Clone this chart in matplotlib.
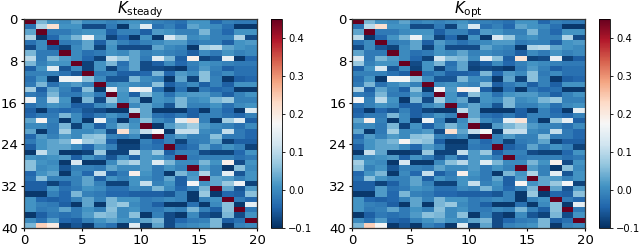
import numpy as np
import matplotlib
matplotlib.use("Agg")
import matplotlib.pyplot as plt

x_ticks = [0, 5, 10, 15, 20]
y_ticks = [0, 8, 16, 24, 32, 40]
cbar_ticks = [-0.1, 0.0, 0.1, 0.2, 0.3, 0.4]
titles = [r"$K_{\mathrm{steady}}$", r"$K_{\mathrm{opt}}$"]

# values in hundredths
k_steady = [
[45,5,1,0,3,0,0,-1,0,1,0,-1,-2,-3,1,1,-4,-1,-2,-2],
[-3,9,22,1,1,-7,-7,-2,-9,2,14,-3,-1,-4,3,1,0,-3,-9,-9],
[3,45,-2,-2,0,1,1,-5,-1,-1,-5,2,1,-1,-1,5,-1,-4,1,1],
[9,-9,-4,1,5,16,2,-8,-4,-9,1,-9,13,7,0,1,-1,-1,9,-7],
[-3,0,45,-2,-1,3,-5,2,-1,-3,-1,0,2,2,-2,-1,-1,-5,1,2],
[-7,0,-6,-8,0,3,-8,1,-7,-7,-7,3,0,-1,-9,8,10,3,1,0],
[5,-2,-2,45,0,-3,-2,1,0,3,-1,0,-1,-2,-5,0,-2,1,-1,0],
[10,-2,5,2,0,-4,-8,11,7,3,-2,14,5,-5,19,-8,-6,15,-9,-4],
[5,-1,1,1,45,-8,1,5,-3,3,-7,-5,0,-4,-1,1,0,-1,-2,-2],
[-5,1,14,-6,0,-8,1,-8,-2,3,-7,-7,-8,-9,-2,2,-1,-5,-3,-3],
[-1,-1,-1,-3,-6,45,-2,-1,-5,-5,-4,5,-4,2,0,6,-2,0,-3,-3],
[-3,1,-9,16,16,6,0,-6,-6,5,0,-1,-9,3,-8,6,-1,-9,-5,-4],
[-2,5,-3,0,2,-1,45,0,1,0,-1,6,-5,-2,0,-5,-1,-5,1,1],
[8,-5,3,-1,-5,6,-9,15,2,18,15,-3,-9,-3,-9,-2,-4,-3,-9,-9],
[-2,-3,5,-2,-2,2,-2,45,1,-5,6,1,-3,1,2,2,-1,-5,-1,1],
[16,-1,10,1,-9,5,-7,7,1,3,-9,1,0,5,0,1,5,7,-1,-1],
[-3,-1,1,0,-5,-5,0,2,45,0,3,0,-6,5,-1,-1,1,-3,0,1],
[-5,-9,-3,-4,-3,-6,-7,-9,-9,10,3,-9,-9,-9,-5,-9,-1,-4,-9,14],
[-4,-2,-2,5,0,-5,-2,1,-1,45,3,-3,-4,-2,-5,-1,-1,-3,-4,-1],
[3,18,-1,-9,0,-9,16,-1,-9,0,6,0,-2,14,22,-1,-9,8,14,-5],
[0,0,-2,5,-8,1,-5,0,5,1,45,-9,2,5,8,2,0,-1,-3,0],
[3,-9,-2,8,0,0,2,-7,22,3,11,17,-9,11,11,0,-1,11,-2,-4],
[-4,2,-1,2,0,6,7,-1,-2,0,-9,45,-1,2,-1,-1,6,-2,-2,-4],
[-2,1,3,5,17,8,6,-5,-9,-9,-1,-4,-1,-8,-2,-1,3,-8,-5,-5],
[-5,1,3,3,0,-4,2,-1,-8,-8,-2,-3,45,-5,-3,3,-2,1,-1,-8],
[-9,11,3,-9,-9,-8,7,-8,-8,11,2,7,-5,-1,-1,-7,-8,-8,-4,1],
[1,0,1,2,-5,1,-2,-6,0,-5,2,1,-2,45,-2,-1,-1,-1,-3,-2],
[6,1,0,-9,13,-9,-9,0,6,9,2,14,5,0,0,5,1,19,-7,1],
[6,0,1,-6,-1,-1,-2,3,0,0,2,-2,1,-1,45,2,-1,-9,6,0],
[-4,1,3,-9,0,-4,11,-5,-2,19,1,-2,-9,5,1,9,-1,15,-6,1],
[-3,6,-1,-1,-1,3,-5,1,-1,1,0,-2,3,-5,2,45,3,2,-1,1],
[-5,-5,-8,-5,-1,3,-1,-8,-8,1,11,-1,1,-5,17,1,3,7,16,-8],
[-5,-5,1,-3,-2,1,0,-3,-3,0,-1,5,0,-4,-1,5,45,3,-6,2],
[-9,-9,-1,-4,5,-1,-2,-4,-4,-5,-5,-5,-6,-1,-9,7,-9,-4,-5,6],
[1,-4,-5,-4,-1,3,-1,5,1,1,-2,-1,0,-1,-9,-1,1,45,-2,-4],
[1,-1,-2,-5,-9,3,-9,5,7,0,-2,-5,-9,-9,-3,-9,0,6,-9,15],
[1,-2,-1,3,-2,1,-1,6,0,1,-2,-2,0,-1,5,-1,-5,6,45,-2],
[-9,-5,-2,-3,-2,2,6,5,0,6,-9,-1,-7,-9,0,-6,-8,5,-7,1],
[0,-3,2,-4,-5,-1,1,3,1,0,3,5,-7,-4,-2,-1,5,-5,-3,45],
[5,24,20,-9,-6,-9,-1,-3,-9,14,-9,3,-7,-1,0,1,5,-9,-1,0],
]

k_opt = [
[45,5,1,0,3,-1,0,-1,0,1,-1,-1,-2,-3,1,1,-4,-1,-2,-2],
[-3,10,22,1,1,-7,-7,-2,-8,2,13,-3,-1,-4,3,1,0,-3,-9,-9],
[3,45,-2,-2,0,1,1,-5,-1,-1,-5,2,1,-1,-1,5,-1,-4,1,1],
[10,-9,-4,1,5,16,2,-8,-4,-9,1,-9,13,7,0,1,-1,-1,9,-7],
[-3,0,45,-2,-1,3,-5,2,-1,-3,-1,0,2,2,-2,-1,-1,-5,1,2],
[-7,0,-6,-8,0,3,-8,1,-7,-7,-7,3,0,-1,-9,9,10,3,1,0],
[3,-2,-2,45,0,-3,-2,1,0,3,-1,0,-1,-2,-5,0,-2,1,-1,0],
[13,-2,5,2,0,-4,-8,12,6,5,0,15,6,-5,21,-8,-7,15,-8,-5],
[7,-1,1,1,45,-7,1,5,-3,3,-7,-5,0,-4,-1,1,0,-1,-2,-2],
[-5,1,13,-6,0,-8,1,-8,-2,3,-8,-7,-8,-9,-2,2,-1,-5,-3,-3],
[-1,-1,-1,-3,-5,45,-3,-1,-5,-5,-4,5,-4,2,0,6,-2,0,-3,-3],
[-3,1,-9,17,17,6,0,-6,-6,5,0,-1,-9,3,-8,6,-1,-9,-5,-4],
[-2,5,-3,0,2,-1,45,0,1,0,-1,6,-5,-2,0,-5,-1,-5,1,1],
[9,-5,3,-1,-5,6,-9,16,2,19,16,-5,-9,-3,-9,-2,-4,-3,-9,-9],
[-2,-3,5,-2,-2,2,-2,45,1,-5,6,1,-3,1,2,2,-1,-5,-1,1],
[17,-1,10,1,-9,5,-7,8,1,3,-8,1,0,5,0,1,5,7,-1,-1],
[-3,-1,1,0,-5,-5,0,2,45,0,3,0,-6,5,-1,-1,1,-3,0,1],
[-5,-9,-4,-6,-1,-5,-8,-9,-9,10,3,-9,-9,-9,-5,-9,-1,-4,-9,15],
[-4,-2,-2,5,0,-5,-2,1,-1,45,3,-3,-4,-2,-5,-1,-1,-3,-4,-1],
[3,19,-1,-9,0,-9,16,-1,-9,0,6,0,-2,15,21,-1,-9,7,15,-5],
[0,0,-2,5,-8,1,-5,0,5,1,45,-9,2,5,8,2,0,-1,-3,0],
[3,-9,-2,8,0,0,2,-7,22,3,11,17,-9,11,11,0,-1,11,-2,-4],
[-4,2,-1,2,0,6,7,-1,-2,0,-9,45,-1,2,-1,-1,6,-2,-2,-4],
[-2,1,3,5,18,8,6,-5,-9,-9,-1,-4,-1,-8,-2,-1,3,-8,-5,-5],
[-5,1,3,3,0,-4,2,-1,-8,-8,-2,-3,45,-5,-3,3,-2,1,-1,-8],
[-9,11,3,-9,-9,-8,7,-8,-8,11,2,7,-5,-1,-1,-7,-8,-8,-4,1],
[0,0,1,2,-5,1,-2,-6,0,-5,2,1,-2,45,-2,-1,-1,-1,-3,-2],
[8,1,0,-9,13,-9,-9,0,6,10,2,14,5,0,0,5,1,19,-7,1],
[6,-1,1,-6,-1,-1,-2,3,0,0,2,-2,1,-1,45,2,-1,-9,6,0],
[-4,1,5,-9,0,-4,11,-5,-2,19,1,-2,-9,5,1,9,-1,15,-6,1],
[-3,6,1,-1,-1,3,-5,1,-1,1,0,-2,3,-5,2,45,3,2,-1,1],
[-5,-5,-8,-5,-1,3,-1,-8,-8,1,11,-1,1,-5,18,1,3,7,17,-8],
[-5,-5,2,-3,-2,1,0,-3,-3,0,-1,5,0,-4,-1,5,45,3,-6,2],
[-9,-9,2,-4,5,-1,-2,-4,-4,-5,-5,-5,-6,-1,-9,7,-9,-4,-5,6],
[1,-4,-5,-4,-1,3,-1,5,1,1,-2,-1,0,-1,-9,-1,1,45,-2,-4],
[1,-1,-2,-5,-9,3,-9,5,7,0,-2,-5,-9,-9,-3,-9,0,6,-9,15],
[1,-2,-1,3,-2,1,-1,6,0,1,-2,-2,0,-1,5,-1,-5,6,45,-2],
[-9,-5,-2,-3,-2,2,6,5,0,6,-9,-1,-7,-9,0,-6,-8,5,-7,1],
[0,-3,2,-4,-5,-1,1,3,1,0,3,5,-7,-4,-2,-1,5,-5,-3,45],
[5,24,17,-9,-6,-9,-1,-3,-9,14,-9,3,-7,-1,0,1,5,-9,-1,0],
]

W, H = 640, 247
fig = plt.figure(figsize=(W / 100, H / 100), dpi=100)

def rect(x0, x1, y0, y1):
    return [x0 / W, 1 - y1 / H, (x1 - x0) / W, (y1 - y0) / H]

panels = [(24, 257, 271, 282, k_steady), (352.3, 585.3, 599.3, 610, k_opt)]
for (ax0, ax1, c0, c1, data), title in zip(panels, titles):
    ax = fig.add_axes(rect(ax0, ax1, 19, 228))
    im = ax.imshow(np.array(data) / 100, cmap="RdBu_r", vmin=-0.1, vmax=0.45,
                   extent=(0, 20, 40, 0), aspect="auto", interpolation="nearest")
    ax.set_xticks(x_ticks)
    ax.set_yticks(y_ticks)
    ax.tick_params(labelsize=9.5, length=2.5, width=0.8, pad=2)
    for s in ax.spines.values():
        s.set_linewidth(0.9)
        s.set_color("#333333")
    ax.set_title(title, fontsize=10.8, y=1.029, pad=0)
    cax = fig.add_axes(rect(c0, c1, 19, 228))
    cb = fig.colorbar(im, cax=cax, ticks=cbar_ticks)
    cb.ax.tick_params(labelsize=7.2, length=2.5, width=0.6, pad=2)
    cb.outline.set_linewidth(0.6)

fig.savefig("out.png", dpi=100)
